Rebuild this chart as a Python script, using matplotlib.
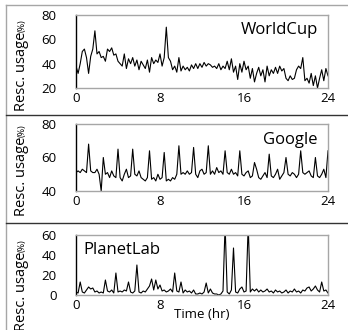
import matplotlib
matplotlib.use("Agg")
import matplotlib.pyplot as plt
from matplotlib.lines import Line2D
import numpy as np

plt.rcParams['font.family'] = ['Open Sans', 'DejaVu Sans']

# resource usage (%) sampled every 0.2 h over a day
worldcup = [38, 32, 40, 50, 52, 45, 32, 46, 52, 67, 48, 50, 45, 46, 42, 52, 50, 53, 47, 48,
            42, 40, 38, 48, 36, 44, 40, 45, 38, 43, 35, 42, 39, 36, 43, 33, 45, 40, 43, 41,
            48, 38, 45, 70, 45, 42, 35, 38, 33, 45, 34, 38, 35, 37, 34, 39, 36, 40, 36, 40,
            37, 41, 38, 40, 39, 37, 38, 36, 40, 35, 38, 36, 42, 35, 44, 33, 38, 27, 40, 33,
            42, 35, 38, 28, 36, 25, 32, 37, 30, 35, 25, 38, 30, 35, 32, 37, 32, 38, 34, 36,
            28, 26, 30, 27, 28, 35, 38, 36, 45, 26, 28, 24, 32, 22, 30, 20, 28, 35, 26, 36, 30]

google = [51, 52, 51, 53, 52, 51, 68, 52, 51, 51, 53, 50, 40, 60, 50, 51, 48, 52, 49, 48,
          65, 48, 46, 50, 53, 48, 49, 65, 50, 49, 52, 48, 47, 46, 48, 64, 47, 48, 46, 50,
          47, 48, 63, 46, 47, 46, 48, 47, 50, 67, 50, 51, 50, 52, 50, 51, 66, 50, 48, 52,
          53, 50, 51, 67, 50, 52, 50, 54, 51, 52, 50, 64, 51, 50, 53, 50, 51, 49, 64, 50,
          49, 51, 52, 48, 49, 57, 53, 48, 47, 49, 51, 48, 62, 49, 48, 50, 53, 47, 49, 51,
          60, 50, 49, 51, 50, 48, 50, 64, 51, 50, 51, 52, 49, 48, 60, 49, 48, 50, 53, 48, 64]

planetlab = [3, 2, 13, 3, 2, 5, 8, 6, 7, 3, 4, 2, 3, 2, 15, 4, 3, 5, 2, 22,
             3, 4, 3, 5, 4, 13, 3, 2, 4, 30, 3, 2, 4, 3, 6, 9, 16, 5, 15, 6,
             10, 4, 5, 3, 4, 6, 3, 22, 4, 3, 13, 2, 5, 3, 4, 2, 5, 1, 1, 2,
             1, 3, 12, 2, 6, 2, 1, 1, 0, 1, 4, 70, 3, 1, 5, 47, 3, 2, 6, 8,
             3, 4, 70, 3, 6, 4, 6, 3, 5, 3, 4, 6, 3, 4, 2, 5, 3, 4, 2, 3,
             5, 2, 4, 3, 6, 3, 4, 2, 5, 4, 7, 8, 4, 6, 9, 5, 3, 13, 4, 5, 2]

names = ["WorldCup", "Google", "PlanetLab"]
ylims = [(20, 80), (40, 80), (0, 60)]
yticks = [[20, 40, 60, 80], [40, 60, 80], [0, 20, 40, 60]]
xticks = [0, 8, 16, 24]

gray = "#a6a6a6"
W, H = 348, 330
fig = plt.figure(figsize=(W / 100, H / 100), dpi=100)

# axes boxes in pixels: (top, bottom)
boxes = [(15, 88), (124, 191), (235, 295)]
left_px, right_px = 76, 328
label_px = [56, 54, 43]   # where "(%)" starts, above axes bottom
series = [worldcup, google, planetlab]

for i, (top, bot) in enumerate(boxes):
    ax = fig.add_axes([left_px / W, 1 - bot / H, (right_px - left_px) / W, (bot - top) / H])
    y = series[i]
    t = np.linspace(0, 24, len(y))
    ax.plot(t, y, color="black", lw=0.8)
    ax.set_xlim(0, 24)
    ax.set_ylim(*ylims[i])
    ax.set_yticks(yticks[i])
    ax.set_xticks(xticks)
    ax.tick_params(length=0, labelsize=9.5)
    ax.tick_params(axis="y", pad=14)
    ax.tick_params(axis="x", pad=3)
    for s in ["top", "right", "bottom"]:
        ax.spines[s].set_color(gray)
        ax.spines[s].set_linewidth(1)
    ax.spines["left"].set_color("black")
    ax.spines["left"].set_linewidth(1)

    if i == 2:
        ax.text(0.03, 0.75, names[i], transform=ax.transAxes, fontsize=12,
                ha="left", va="center")
        ax.set_xlabel("Time (hr)", fontsize=9.5, labelpad=-3)
    else:
        ax.text(0.96, 0.80 if i == 0 else 0.76, names[i], transform=ax.transAxes,
                fontsize=12, ha="right", va="center")

    ax.annotate("Resc. usage", xy=(0, 0), xycoords="axes fraction",
                xytext=(-51, label_px[i]), textcoords="offset pixels",
                rotation=90, rotation_mode="anchor", ha="right", va="baseline",
                fontsize=10.5)
    ax.annotate("(%)", xy=(0, 0), xycoords="axes fraction",
                xytext=(-51, label_px[i]), textcoords="offset pixels",
                rotation=90, rotation_mode="anchor", ha="left", va="baseline",
                fontsize=6.5)

# frame lines around the panels
fig.add_artist(Line2D([6 / W, 1], [1 - 5 / H] * 2, color=gray, lw=1))
fig.add_artist(Line2D([6 / W, 6 / W], [0, 1 - 5 / H], color=gray, lw=1))
for yp in [115, 223]:
    fig.add_artist(Line2D([6 / W, 1], [1 - yp / H] * 2, color="#333333", lw=1))

fig.savefig("out.png", dpi=100)
